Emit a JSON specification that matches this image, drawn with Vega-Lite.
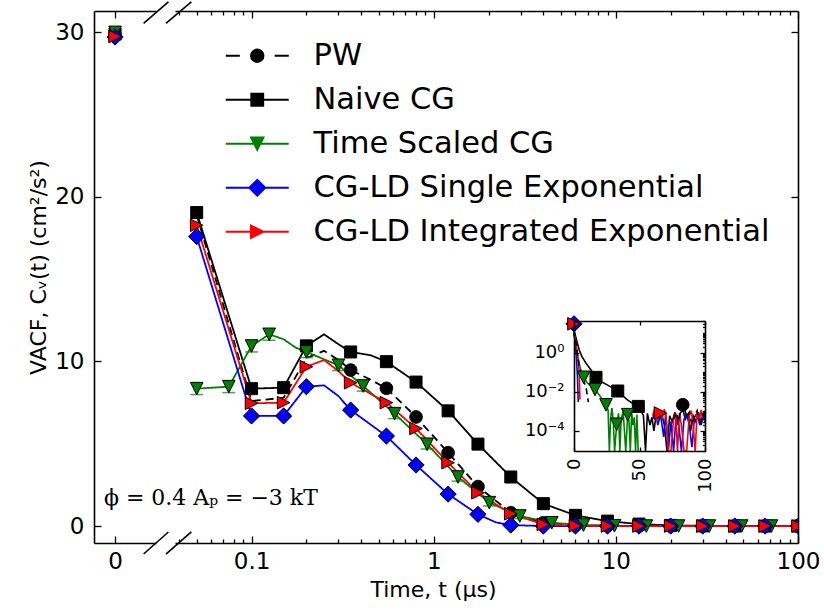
{
 "$schema": "https://vega.github.io/schema/vega-lite/v6.json",
 "background": "white",
 "padding": {"left": 27, "top": 0, "right": 5, "bottom": 5},
 "bounds": "flush",
 "spacing": 19,
 "config": {
  "view": {"stroke": null},
  "font": "DejaVu Sans",
  "axis": {"domainColor": "black", "tickColor": "black", "labelColor": "black", "titleColor": "black", "domainWidth": 1.6, "tickWidth": 1.3, "labelFont": "DejaVu Sans", "titleFont": "DejaVu Sans", "labelFontSize": 23, "titleFontSize": 22, "titleFontWeight": "normal", "grid": false, "labelFlush": false, "labelOverlap": false, "zindex": 1}
 },
 "datasets": {
  "zero": [
   {"s": "PW", "t": 0, "v": 29.8},
   {"s": "Naive CG", "t": 0, "v": 29.9},
   {"s": "Time Scaled CG", "t": 0, "v": 30.0},
   {"s": "CG-LD Single Exponential", "t": 0, "v": 29.72},
   {"s": "CG-LD Integrated Exponential", "t": 0, "v": 29.75}
  ],
  "main": [
   {"s": "PW", "t": 0.05, "v": 18.9}, {"s": "PW", "t": 0.1, "v": 7.6}, {"s": "PW", "t": 0.15, "v": 7.8}, {"s": "PW", "t": 0.2, "v": 10.2}, {"s": "PW", "t": 0.25, "v": 10.65}, {"s": "PW", "t": 0.3, "v": 10.1}, {"s": "PW", "t": 0.35, "v": 9.48}, {"s": "PW", "t": 0.45, "v": 8.9}, {"s": "PW", "t": 0.55, "v": 8.37}, {"s": "PW", "t": 0.8, "v": 6.63}, {"s": "PW", "t": 1.2, "v": 4.46}, {"s": "PW", "t": 1.75, "v": 2.4}, {"s": "PW", "t": 2.65, "v": 0.81}, {"s": "PW", "t": 4, "v": 0.2}, {"s": "PW", "t": 6, "v": 0.05}, {"s": "PW", "t": 9, "v": 0.02}, {"s": "PW", "t": 13.4, "v": 0}, {"s": "PW", "t": 20, "v": 0}, {"s": "PW", "t": 30, "v": 0}, {"s": "PW", "t": 45, "v": 0}, {"s": "PW", "t": 66, "v": 0}, {"s": "PW", "t": 100, "v": 0},
   {"s": "Naive CG", "t": 0.05, "v": 19.05}, {"s": "Naive CG", "t": 0.1, "v": 8.35}, {"s": "Naive CG", "t": 0.15, "v": 8.41}, {"s": "Naive CG", "t": 0.2, "v": 10.95}, {"s": "Naive CG", "t": 0.25, "v": 11.65}, {"s": "Naive CG", "t": 0.3, "v": 11.05}, {"s": "Naive CG", "t": 0.35, "v": 10.58}, {"s": "Naive CG", "t": 0.45, "v": 10.38}, {"s": "Naive CG", "t": 0.55, "v": 9.99}, {"s": "Naive CG", "t": 0.8, "v": 8.75}, {"s": "Naive CG", "t": 1.2, "v": 7.0}, {"s": "Naive CG", "t": 1.75, "v": 4.98}, {"s": "Naive CG", "t": 2.65, "v": 2.98}, {"s": "Naive CG", "t": 4, "v": 1.36}, {"s": "Naive CG", "t": 6, "v": 0.65}, {"s": "Naive CG", "t": 9, "v": 0.3}, {"s": "Naive CG", "t": 13.4, "v": 0.12}, {"s": "Naive CG", "t": 20, "v": 0.04}, {"s": "Naive CG", "t": 30, "v": 0.01}, {"s": "Naive CG", "t": 45, "v": 0}, {"s": "Naive CG", "t": 66, "v": 0}, {"s": "Naive CG", "t": 100, "v": 0},
   {"s": "Time Scaled CG", "t": 0.05, "v": 8.35}, {"s": "Time Scaled CG", "t": 0.075, "v": 8.47}, {"s": "Time Scaled CG", "t": 0.1, "v": 10.94}, {"s": "Time Scaled CG", "t": 0.125, "v": 11.65}, {"s": "Time Scaled CG", "t": 0.15, "v": 11.35}, {"s": "Time Scaled CG", "t": 0.175, "v": 10.84}, {"s": "Time Scaled CG", "t": 0.2, "v": 10.58}, {"s": "Time Scaled CG", "t": 0.3, "v": 9.77}, {"s": "Time Scaled CG", "t": 0.41, "v": 8.51}, {"s": "Time Scaled CG", "t": 0.61, "v": 6.83}, {"s": "Time Scaled CG", "t": 0.92, "v": 4.97}, {"s": "Time Scaled CG", "t": 1.36, "v": 2.98}, {"s": "Time Scaled CG", "t": 2.02, "v": 1.42}, {"s": "Time Scaled CG", "t": 2.97, "v": 0.61}, {"s": "Time Scaled CG", "t": 4.45, "v": 0.2}, {"s": "Time Scaled CG", "t": 6.64, "v": 0.06}, {"s": "Time Scaled CG", "t": 9.83, "v": 0.02}, {"s": "Time Scaled CG", "t": 14.7, "v": 0}, {"s": "Time Scaled CG", "t": 22.1, "v": 0}, {"s": "Time Scaled CG", "t": 32.6, "v": 0}, {"s": "Time Scaled CG", "t": 49.1, "v": 0}, {"s": "Time Scaled CG", "t": 71.5, "v": 0}, {"s": "Time Scaled CG", "t": 100, "v": 0},
   {"s": "CG-LD Single Exponential", "t": 0.05, "v": 17.59}, {"s": "CG-LD Single Exponential", "t": 0.1, "v": 6.69}, {"s": "CG-LD Single Exponential", "t": 0.15, "v": 6.69}, {"s": "CG-LD Single Exponential", "t": 0.2, "v": 8.47}, {"s": "CG-LD Single Exponential", "t": 0.25, "v": 8.55}, {"s": "CG-LD Single Exponential", "t": 0.3, "v": 7.9}, {"s": "CG-LD Single Exponential", "t": 0.35, "v": 7.05}, {"s": "CG-LD Single Exponential", "t": 0.55, "v": 5.47}, {"s": "CG-LD Single Exponential", "t": 0.8, "v": 3.71}, {"s": "CG-LD Single Exponential", "t": 1.2, "v": 1.94}, {"s": "CG-LD Single Exponential", "t": 1.75, "v": 0.71}, {"s": "CG-LD Single Exponential", "t": 2.2, "v": 0.22}, {"s": "CG-LD Single Exponential", "t": 2.65, "v": 0.06}, {"s": "CG-LD Single Exponential", "t": 4, "v": 0}, {"s": "CG-LD Single Exponential", "t": 6, "v": 0}, {"s": "CG-LD Single Exponential", "t": 9, "v": 0}, {"s": "CG-LD Single Exponential", "t": 13.4, "v": 0}, {"s": "CG-LD Single Exponential", "t": 20, "v": 0}, {"s": "CG-LD Single Exponential", "t": 30, "v": 0}, {"s": "CG-LD Single Exponential", "t": 45, "v": 0}, {"s": "CG-LD Single Exponential", "t": 66, "v": 0}, {"s": "CG-LD Single Exponential", "t": 100, "v": 0},
   {"s": "CG-LD Integrated Exponential", "t": 0.05, "v": 18.28}, {"s": "CG-LD Integrated Exponential", "t": 0.1, "v": 7.46}, {"s": "CG-LD Integrated Exponential", "t": 0.15, "v": 7.5}, {"s": "CG-LD Integrated Exponential", "t": 0.2, "v": 9.68}, {"s": "CG-LD Integrated Exponential", "t": 0.25, "v": 10.09}, {"s": "CG-LD Integrated Exponential", "t": 0.3, "v": 9.42}, {"s": "CG-LD Integrated Exponential", "t": 0.35, "v": 8.71}, {"s": "CG-LD Integrated Exponential", "t": 0.55, "v": 7.5}, {"s": "CG-LD Integrated Exponential", "t": 0.8, "v": 5.93}, {"s": "CG-LD Integrated Exponential", "t": 1.2, "v": 3.85}, {"s": "CG-LD Integrated Exponential", "t": 1.75, "v": 2.02}, {"s": "CG-LD Integrated Exponential", "t": 2.65, "v": 0.75}, {"s": "CG-LD Integrated Exponential", "t": 4, "v": 0.1}, {"s": "CG-LD Integrated Exponential", "t": 6, "v": 0.02}, {"s": "CG-LD Integrated Exponential", "t": 9, "v": 0}, {"s": "CG-LD Integrated Exponential", "t": 13.4, "v": 0}, {"s": "CG-LD Integrated Exponential", "t": 20, "v": 0}, {"s": "CG-LD Integrated Exponential", "t": 30, "v": 0}, {"s": "CG-LD Integrated Exponential", "t": 45, "v": 0}, {"s": "CG-LD Integrated Exponential", "t": 66, "v": 0}, {"s": "CG-LD Integrated Exponential", "t": 100, "v": 0}
  ],
  "mainpts": [
   {"s": "PW", "t": 0.35, "v": 9.48}, {"s": "PW", "t": 0.55, "v": 8.37}, {"s": "PW", "t": 0.8, "v": 6.63}, {"s": "PW", "t": 1.2, "v": 4.46}, {"s": "PW", "t": 1.75, "v": 2.4}, {"s": "PW", "t": 2.65, "v": 0.81}, {"s": "PW", "t": 4, "v": 0.2}, {"s": "PW", "t": 6, "v": 0.05}, {"s": "PW", "t": 9, "v": 0.02}, {"s": "PW", "t": 13.4, "v": 0}, {"s": "PW", "t": 20, "v": 0}, {"s": "PW", "t": 30, "v": 0}, {"s": "PW", "t": 45, "v": 0}, {"s": "PW", "t": 66, "v": 0}, {"s": "PW", "t": 100, "v": 0},
   {"s": "Naive CG", "t": 0.05, "v": 19.05}, {"s": "Naive CG", "t": 0.1, "v": 8.35}, {"s": "Naive CG", "t": 0.15, "v": 8.41}, {"s": "Naive CG", "t": 0.2, "v": 10.95}, {"s": "Naive CG", "t": 0.35, "v": 10.58}, {"s": "Naive CG", "t": 0.55, "v": 9.99}, {"s": "Naive CG", "t": 0.8, "v": 8.75}, {"s": "Naive CG", "t": 1.2, "v": 7.0}, {"s": "Naive CG", "t": 1.75, "v": 4.98}, {"s": "Naive CG", "t": 2.65, "v": 2.98}, {"s": "Naive CG", "t": 4, "v": 1.36}, {"s": "Naive CG", "t": 6, "v": 0.65}, {"s": "Naive CG", "t": 9, "v": 0.3}, {"s": "Naive CG", "t": 13.4, "v": 0.12}, {"s": "Naive CG", "t": 20, "v": 0.04}, {"s": "Naive CG", "t": 30, "v": 0.01}, {"s": "Naive CG", "t": 45, "v": 0}, {"s": "Naive CG", "t": 66, "v": 0}, {"s": "Naive CG", "t": 100, "v": 0},
   {"s": "Time Scaled CG", "t": 0.05, "v": 8.35}, {"s": "Time Scaled CG", "t": 0.075, "v": 8.47}, {"s": "Time Scaled CG", "t": 0.1, "v": 10.94}, {"s": "Time Scaled CG", "t": 0.125, "v": 11.65}, {"s": "Time Scaled CG", "t": 0.2, "v": 10.58}, {"s": "Time Scaled CG", "t": 0.3, "v": 9.77}, {"s": "Time Scaled CG", "t": 0.41, "v": 8.51}, {"s": "Time Scaled CG", "t": 0.61, "v": 6.83}, {"s": "Time Scaled CG", "t": 0.92, "v": 4.97}, {"s": "Time Scaled CG", "t": 1.36, "v": 2.98}, {"s": "Time Scaled CG", "t": 2.02, "v": 1.42}, {"s": "Time Scaled CG", "t": 2.97, "v": 0.61}, {"s": "Time Scaled CG", "t": 4.45, "v": 0.2}, {"s": "Time Scaled CG", "t": 6.64, "v": 0.06}, {"s": "Time Scaled CG", "t": 9.83, "v": 0.02}, {"s": "Time Scaled CG", "t": 14.7, "v": 0}, {"s": "Time Scaled CG", "t": 22.1, "v": 0}, {"s": "Time Scaled CG", "t": 32.6, "v": 0}, {"s": "Time Scaled CG", "t": 49.1, "v": 0}, {"s": "Time Scaled CG", "t": 71.5, "v": 0},
   {"s": "CG-LD Single Exponential", "t": 0.05, "v": 17.59}, {"s": "CG-LD Single Exponential", "t": 0.1, "v": 6.69}, {"s": "CG-LD Single Exponential", "t": 0.15, "v": 6.69}, {"s": "CG-LD Single Exponential", "t": 0.2, "v": 8.47}, {"s": "CG-LD Single Exponential", "t": 0.35, "v": 7.05}, {"s": "CG-LD Single Exponential", "t": 0.55, "v": 5.47}, {"s": "CG-LD Single Exponential", "t": 0.8, "v": 3.71}, {"s": "CG-LD Single Exponential", "t": 1.2, "v": 1.94}, {"s": "CG-LD Single Exponential", "t": 1.75, "v": 0.71}, {"s": "CG-LD Single Exponential", "t": 2.65, "v": 0.06}, {"s": "CG-LD Single Exponential", "t": 4, "v": 0}, {"s": "CG-LD Single Exponential", "t": 6, "v": 0}, {"s": "CG-LD Single Exponential", "t": 9, "v": 0}, {"s": "CG-LD Single Exponential", "t": 13.4, "v": 0}, {"s": "CG-LD Single Exponential", "t": 20, "v": 0}, {"s": "CG-LD Single Exponential", "t": 30, "v": 0}, {"s": "CG-LD Single Exponential", "t": 45, "v": 0}, {"s": "CG-LD Single Exponential", "t": 66, "v": 0}, {"s": "CG-LD Single Exponential", "t": 100, "v": 0},
   {"s": "CG-LD Integrated Exponential", "t": 0.05, "v": 18.28}, {"s": "CG-LD Integrated Exponential", "t": 0.1, "v": 7.46}, {"s": "CG-LD Integrated Exponential", "t": 0.15, "v": 7.5}, {"s": "CG-LD Integrated Exponential", "t": 0.2, "v": 9.68}, {"s": "CG-LD Integrated Exponential", "t": 0.35, "v": 8.71}, {"s": "CG-LD Integrated Exponential", "t": 0.55, "v": 7.5}, {"s": "CG-LD Integrated Exponential", "t": 0.8, "v": 5.93}, {"s": "CG-LD Integrated Exponential", "t": 1.2, "v": 3.85}, {"s": "CG-LD Integrated Exponential", "t": 1.75, "v": 2.02}, {"s": "CG-LD Integrated Exponential", "t": 2.65, "v": 0.75}, {"s": "CG-LD Integrated Exponential", "t": 4, "v": 0.1}, {"s": "CG-LD Integrated Exponential", "t": 6, "v": 0.02}, {"s": "CG-LD Integrated Exponential", "t": 9, "v": 0}, {"s": "CG-LD Integrated Exponential", "t": 13.4, "v": 0}, {"s": "CG-LD Integrated Exponential", "t": 20, "v": 0}, {"s": "CG-LD Integrated Exponential", "t": 30, "v": 0}, {"s": "CG-LD Integrated Exponential", "t": 45, "v": 0}, {"s": "CG-LD Integrated Exponential", "t": 66, "v": 0}, {"s": "CG-LD Integrated Exponential", "t": 100, "v": 0}
  ],
  "gerr": [
   {"t": 0.05, "lo": 7.99, "hi": 8.71}, {"t": 0.075, "lo": 8.11, "hi": 8.83}, {"t": 0.1, "lo": 10.58, "hi": 11.3}, {"t": 0.125, "lo": 11.29, "hi": 12.01}, {"t": 0.2, "lo": 10.24, "hi": 10.92}, {"t": 0.3, "lo": 9.45, "hi": 10.09}, {"t": 0.41, "lo": 8.2, "hi": 8.82}, {"t": 0.61, "lo": 6.53, "hi": 7.13}, {"t": 0.92, "lo": 4.69, "hi": 5.25}, {"t": 1.36, "lo": 2.73, "hi": 3.23}, {"t": 2.02, "lo": 1.22, "hi": 1.62}, {"t": 2.97, "lo": 0.45, "hi": 0.77}
  ],
  "inset": [
   {"s": "PW", "t": 0, "v": 29.8}, {"s": "PW", "t": 0.05, "v": 18.9}, {"s": "PW", "t": 0.1, "v": 7.6}, {"s": "PW", "t": 0.35, "v": 9.48}, {"s": "PW", "t": 1.2, "v": 4.46}, {"s": "PW", "t": 2.65, "v": 0.81}, {"s": "PW", "t": 4, "v": 0.2}, {"s": "PW", "t": 6, "v": 0.05}, {"s": "PW", "t": 9, "v": 0.02}, {"s": "PW", "t": 11, "v": 0.003}, {"s": "PW", "t": 12, "v": null}, {"s": "PW", "t": 74, "v": null}, {"s": "PW", "t": 76, "v": 0.0004}, {"s": "PW", "t": 78, "v": 0.0009}, {"s": "PW", "t": 80, "v": 0.0003}, {"s": "PW", "t": 81.5, "v": 0.0015}, {"s": "PW", "t": 83, "v": 0.0022}, {"s": "PW", "t": 84.5, "v": 0.0013}, {"s": "PW", "t": 86, "v": 0.0005}, {"s": "PW", "t": 88, "v": 0.0009}, {"s": "PW", "t": 90, "v": 0.0002}, {"s": "PW", "t": 92, "v": 0.0006}, {"s": "PW", "t": 94, "v": 0.0011}, {"s": "PW", "t": 96, "v": 0.0003}, {"s": "PW", "t": 98, "v": 0.0007}, {"s": "PW", "t": 100, "v": 0.0005},
   {"s": "Naive CG", "t": 0, "v": 29.9}, {"s": "Naive CG", "t": 0.05, "v": 19.05}, {"s": "Naive CG", "t": 0.1, "v": 8.35}, {"s": "Naive CG", "t": 0.25, "v": 11.65}, {"s": "Naive CG", "t": 0.55, "v": 9.99}, {"s": "Naive CG", "t": 1.2, "v": 7.0}, {"s": "Naive CG", "t": 2.65, "v": 2.98}, {"s": "Naive CG", "t": 4, "v": 1.36}, {"s": "Naive CG", "t": 6, "v": 0.65}, {"s": "Naive CG", "t": 9, "v": 0.3}, {"s": "Naive CG", "t": 13.4, "v": 0.12}, {"s": "Naive CG", "t": 16.8, "v": 0.055}, {"s": "Naive CG", "t": 20, "v": 0.035}, {"s": "Naive CG", "t": 25.7, "v": 0.022}, {"s": "Naive CG", "t": 30, "v": 0.015}, {"s": "Naive CG", "t": 33.4, "v": 0.011}, {"s": "Naive CG", "t": 37, "v": 0.0065}, {"s": "Naive CG", "t": 41, "v": 0.0038}, {"s": "Naive CG", "t": 45, "v": 0.0025}, {"s": "Naive CG", "t": 49.1, "v": 0.0018}, {"s": "Naive CG", "t": 51, "v": 0.0012}, {"s": "Naive CG", "t": 53, "v": 0.0006}, {"s": "Naive CG", "t": 54.6, "v": 1e-7}, {"s": "Naive CG", "t": 56, "v": 0.0008}, {"s": "Naive CG", "t": 58, "v": 0.0002}, {"s": "Naive CG", "t": 59.5, "v": 0.0005}, {"s": "Naive CG", "t": 61, "v": 0.0001}, {"s": "Naive CG", "t": 63, "v": 0.0009}, {"s": "Naive CG", "t": 65, "v": 0.0004}, {"s": "Naive CG", "t": 67, "v": 0.0007}, {"s": "Naive CG", "t": 69, "v": 0.0002}, {"s": "Naive CG", "t": 71, "v": 1e-7}, {"s": "Naive CG", "t": 73, "v": 0.0006}, {"s": "Naive CG", "t": 75, "v": 0.0003}, {"s": "Naive CG", "t": 77, "v": 0.0009}, {"s": "Naive CG", "t": 79, "v": 0.0002}, {"s": "Naive CG", "t": 81, "v": 0.0008}, {"s": "Naive CG", "t": 83, "v": 0.0012}, {"s": "Naive CG", "t": 85, "v": 0.0004}, {"s": "Naive CG", "t": 87, "v": 0.0007}, {"s": "Naive CG", "t": 89, "v": 0.0001}, {"s": "Naive CG", "t": 91, "v": 0.0006}, {"s": "Naive CG", "t": 93, "v": 0.0003}, {"s": "Naive CG", "t": 95, "v": 0.0009}, {"s": "Naive CG", "t": 97, "v": 0.0002}, {"s": "Naive CG", "t": 99, "v": 0.0007}, {"s": "Naive CG", "t": 100, "v": 0.0004},
   {"s": "Time Scaled CG", "t": 0, "v": 30.0}, {"s": "Time Scaled CG", "t": 0.05, "v": 8.35}, {"s": "Time Scaled CG", "t": 0.1, "v": 10.94}, {"s": "Time Scaled CG", "t": 0.125, "v": 11.65}, {"s": "Time Scaled CG", "t": 0.3, "v": 9.77}, {"s": "Time Scaled CG", "t": 0.92, "v": 4.97}, {"s": "Time Scaled CG", "t": 2.02, "v": 1.42}, {"s": "Time Scaled CG", "t": 2.97, "v": 0.61}, {"s": "Time Scaled CG", "t": 4.45, "v": 0.2}, {"s": "Time Scaled CG", "t": 6.64, "v": 0.065}, {"s": "Time Scaled CG", "t": 7.4, "v": 0.055}, {"s": "Time Scaled CG", "t": 9.83, "v": 0.03}, {"s": "Time Scaled CG", "t": 12, "v": 0.022}, {"s": "Time Scaled CG", "t": 16, "v": 0.0132}, {"s": "Time Scaled CG", "t": 20, "v": 0.006}, {"s": "Time Scaled CG", "t": 24.4, "v": 0.00216}, {"s": "Time Scaled CG", "t": 26, "v": 0.0012}, {"s": "Time Scaled CG", "t": 27, "v": 1e-7}, {"s": "Time Scaled CG", "t": 28, "v": 0.0005}, {"s": "Time Scaled CG", "t": 29, "v": 0.0015}, {"s": "Time Scaled CG", "t": 30, "v": 0.0003}, {"s": "Time Scaled CG", "t": 31, "v": 1e-7}, {"s": "Time Scaled CG", "t": 32.6, "v": 0.00022}, {"s": "Time Scaled CG", "t": 34, "v": 0.0008}, {"s": "Time Scaled CG", "t": 35, "v": 1e-7}, {"s": "Time Scaled CG", "t": 36, "v": 0.0004}, {"s": "Time Scaled CG", "t": 37.5, "v": 0.001}, {"s": "Time Scaled CG", "t": 38.5, "v": 0.0001}, {"s": "Time Scaled CG", "t": 39.5, "v": 1e-7}, {"s": "Time Scaled CG", "t": 41, "v": 0.00068}, {"s": "Time Scaled CG", "t": 42, "v": 0.0003}, {"s": "Time Scaled CG", "t": 43, "v": 1e-7}, {"s": "Time Scaled CG", "t": 44, "v": 0.0009}, {"s": "Time Scaled CG", "t": 45, "v": 0.0002}, {"s": "Time Scaled CG", "t": 46, "v": 0.0005}, {"s": "Time Scaled CG", "t": 47, "v": 1e-7}, {"s": "Time Scaled CG", "t": 48, "v": 0.0007}, {"s": "Time Scaled CG", "t": 49, "v": 1e-7},
   {"s": "CG-LD Single Exponential", "t": 0, "v": 29.72}, {"s": "CG-LD Single Exponential", "t": 0.05, "v": 17.59}, {"s": "CG-LD Single Exponential", "t": 0.1, "v": 6.69}, {"s": "CG-LD Single Exponential", "t": 0.2, "v": 8.47}, {"s": "CG-LD Single Exponential", "t": 0.35, "v": 7.05}, {"s": "CG-LD Single Exponential", "t": 0.8, "v": 3.71}, {"s": "CG-LD Single Exponential", "t": 1.75, "v": 0.71}, {"s": "CG-LD Single Exponential", "t": 2.65, "v": 0.06}, {"s": "CG-LD Single Exponential", "t": 3.2, "v": 0.003}, {"s": "CG-LD Single Exponential", "t": 3.6, "v": null}, {"s": "CG-LD Single Exponential", "t": 58, "v": null}, {"s": "CG-LD Single Exponential", "t": 60, "v": 0.0004}, {"s": "CG-LD Single Exponential", "t": 62, "v": 0.001}, {"s": "CG-LD Single Exponential", "t": 64, "v": 0.0002}, {"s": "CG-LD Single Exponential", "t": 66, "v": 0.0007}, {"s": "CG-LD Single Exponential", "t": 68.5, "v": 0.00005}, {"s": "CG-LD Single Exponential", "t": 70, "v": 0.0008}, {"s": "CG-LD Single Exponential", "t": 72, "v": 1e-7}, {"s": "CG-LD Single Exponential", "t": 74, "v": 0.0003}, {"s": "CG-LD Single Exponential", "t": 76, "v": 1e-7}, {"s": "CG-LD Single Exponential", "t": 78, "v": 0.0006}, {"s": "CG-LD Single Exponential", "t": 80, "v": 0.0002}, {"s": "CG-LD Single Exponential", "t": 82, "v": 1e-7}, {"s": "CG-LD Single Exponential", "t": 84, "v": 0.0004}, {"s": "CG-LD Single Exponential", "t": 86, "v": 0.0007}, {"s": "CG-LD Single Exponential", "t": 88, "v": 0.0002}, {"s": "CG-LD Single Exponential", "t": 90, "v": 0.000015}, {"s": "CG-LD Single Exponential", "t": 92, "v": 0.0005}, {"s": "CG-LD Single Exponential", "t": 94, "v": 0.0008}, {"s": "CG-LD Single Exponential", "t": 96, "v": 0.0002}, {"s": "CG-LD Single Exponential", "t": 98, "v": 0.0006}, {"s": "CG-LD Single Exponential", "t": 100, "v": 0.0003},
   {"s": "CG-LD Integrated Exponential", "t": 0, "v": 29.75}, {"s": "CG-LD Integrated Exponential", "t": 0.05, "v": 18.28}, {"s": "CG-LD Integrated Exponential", "t": 0.1, "v": 7.46}, {"s": "CG-LD Integrated Exponential", "t": 0.2, "v": 9.68}, {"s": "CG-LD Integrated Exponential", "t": 0.35, "v": 8.71}, {"s": "CG-LD Integrated Exponential", "t": 0.8, "v": 5.93}, {"s": "CG-LD Integrated Exponential", "t": 1.75, "v": 2.02}, {"s": "CG-LD Integrated Exponential", "t": 2.65, "v": 0.75}, {"s": "CG-LD Integrated Exponential", "t": 4, "v": 0.1}, {"s": "CG-LD Integrated Exponential", "t": 4.5, "v": 0.004}, {"s": "CG-LD Integrated Exponential", "t": 5, "v": null}, {"s": "CG-LD Integrated Exponential", "t": 58, "v": null}, {"s": "CG-LD Integrated Exponential", "t": 60, "v": 0.0006}, {"s": "CG-LD Integrated Exponential", "t": 61.5, "v": 0.0012}, {"s": "CG-LD Integrated Exponential", "t": 63, "v": 0.0003}, {"s": "CG-LD Integrated Exponential", "t": 64.5, "v": 0.0009}, {"s": "CG-LD Integrated Exponential", "t": 66, "v": 0.00083}, {"s": "CG-LD Integrated Exponential", "t": 67.5, "v": 0.0005}, {"s": "CG-LD Integrated Exponential", "t": 69, "v": 0.0013}, {"s": "CG-LD Integrated Exponential", "t": 70.5, "v": 0.0004}, {"s": "CG-LD Integrated Exponential", "t": 72, "v": 1e-7}, {"s": "CG-LD Integrated Exponential", "t": 74, "v": 1e-7}, {"s": "CG-LD Integrated Exponential", "t": 76, "v": 0.0004}, {"s": "CG-LD Integrated Exponential", "t": 77.5, "v": 0.0009}, {"s": "CG-LD Integrated Exponential", "t": 79, "v": 1e-7}, {"s": "CG-LD Integrated Exponential", "t": 80.5, "v": 0.0008}, {"s": "CG-LD Integrated Exponential", "t": 82, "v": 0.0002}, {"s": "CG-LD Integrated Exponential", "t": 84, "v": 1e-7}, {"s": "CG-LD Integrated Exponential", "t": 86, "v": 1e-7}, {"s": "CG-LD Integrated Exponential", "t": 88, "v": 0.0006}, {"s": "CG-LD Integrated Exponential", "t": 89.5, "v": 0.0011}, {"s": "CG-LD Integrated Exponential", "t": 91, "v": 0.0002}, {"s": "CG-LD Integrated Exponential", "t": 92.5, "v": 1e-7}, {"s": "CG-LD Integrated Exponential", "t": 94, "v": 0.0009}, {"s": "CG-LD Integrated Exponential", "t": 95.5, "v": 0.0003}, {"s": "CG-LD Integrated Exponential", "t": 97, "v": 0.0012}, {"s": "CG-LD Integrated Exponential", "t": 98.5, "v": 0.0005}, {"s": "CG-LD Integrated Exponential", "t": 100, "v": 0.001}
  ],
  "insetpts": [
   {"s": "PW", "t": 83, "v": 0.0022},
   {"s": "Naive CG", "t": 16.8, "v": 0.055}, {"s": "Naive CG", "t": 33.4, "v": 0.011}, {"s": "Naive CG", "t": 49.1, "v": 0.0018},
   {"s": "Time Scaled CG", "t": 7.4, "v": 0.055}, {"s": "Time Scaled CG", "t": 16, "v": 0.0132}, {"s": "Time Scaled CG", "t": 24.4, "v": 0.00216}, {"s": "Time Scaled CG", "t": 32.6, "v": 0.00022}, {"s": "Time Scaled CG", "t": 41, "v": 0.00068},
   {"s": "CG-LD Single Exponential", "t": 0, "v": 29.72},
   {"s": "CG-LD Integrated Exponential", "t": 0, "v": 29.75}, {"s": "CG-LD Integrated Exponential", "t": 66, "v": 0.00083}
  ]
 },
 "hconcat": [
  {
   "width": 62,
   "height": 532,
   "layer": [
    {
     "data": {"name": "zero"},
     "mark": {"type": "point", "filled": true, "size": 144, "stroke": "black", "strokeWidth": 1, "opacity": 1},
     "encoding": {
      "x": {"field": "t", "type": "quantitative", "scale": {"domain": [-0.34, 0.66], "nice": false, "zero": false},
            "axis": {"orient": "bottom", "values": [0], "format": "d", "tickSize": -7, "labelPadding": 14, "title": null}},
      "y": {"field": "v", "type": "quantitative", "scale": {"domain": [-1.03, 31.3], "nice": false, "zero": false},
            "axis": {"orient": "left", "values": [0, 10, 20, 30], "format": "d", "tickSize": -7, "labelPadding": 17, "title": "VACF, Cᵥ(t) (cm²/s²)", "titlePadding": 4, "titleY": 256}},
      "shape": {"field": "s", "type": "nominal", "legend": null,
                "scale": {"domain": ["Naive CG", "PW", "Time Scaled CG", "CG-LD Single Exponential", "CG-LD Integrated Exponential"],
                          "range": ["M-1,-1H1V1H-1Z", "M1.05,0A1.05,1.05,0,1,1,-1.05,0A1.05,1.05,0,1,1,1.05,0Z", "M-1.05,-1.05H1.05L0,1.05Z", "M0,-1.35L1.35,0L0,1.35L-1.35,0Z", "M-1.05,-1.05L1.05,0L-1.05,1.05Z"]}},
      "fill": {"field": "s", "type": "nominal", "legend": null,
               "scale": {"domain": ["Naive CG", "PW", "Time Scaled CG", "CG-LD Single Exponential", "CG-LD Integrated Exponential"],
                         "range": ["#000000", "#000000", "#008000", "#0000ff", "#ff0000"]}}
     }
    },
    {
     "data": {"values": [{"label": "ϕ = 0.4  Aₚ = −3 kT"}]},
     "mark": {"type": "text", "align": "left", "baseline": "middle", "font": "DejaVu Serif", "fontSize": 22, "color": "black"},
     "encoding": {
      "x": {"datum": -0.18, "type": "quantitative", "axis": {"orient": "top", "values": [0], "labels": false, "tickSize": -7, "title": null}},
      "y": {"datum": 1.7, "type": "quantitative", "axis": null},
      "text": {"field": "label"}
     }
    },
    {
     "data": {"values": [{}]},
     "mark": {"type": "rule", "color": "black", "strokeWidth": 1.6},
     "encoding": {
      "x": {"datum": 0.46, "type": "quantitative", "axis": null},
      "x2": {"datum": 0.86},
      "y": {"datum": -1.7, "type": "quantitative", "axis": null},
      "y2": {"datum": -0.36}
     }
    },
    {
     "data": {"values": [{}]},
     "mark": {"type": "rule", "color": "black", "strokeWidth": 1.6},
     "encoding": {
      "x": {"datum": 0.46, "type": "quantitative", "axis": null},
      "x2": {"datum": 0.86},
      "y": {"datum": 30.55, "type": "quantitative", "axis": null},
      "y2": {"datum": 31.86}
     }
    }
   ],
   "resolve": {"axis": {"x": "independent", "y": "independent"}}
  },
  {
   "width": 623,
   "height": 532,
   "layer": [
    {
     "layer": [
      {
       "data": {"name": "main"},
       "mark": {"type": "line", "strokeWidth": 1.8, "clip": true},
       "encoding": {
        "x": {"field": "t", "type": "quantitative", "scale": {"type": "log", "domain": [0.038, 100], "nice": false},
              "axis": {"orient": "bottom", "values": [0.1, 1, 10, 100], "format": "~g", "tickSize": -7, "labelPadding": 14, "title": "Time, t (μs)", "titlePadding": 6, "titleX": 258}},
        "y": {"field": "v", "type": "quantitative", "scale": {"domain": [-1.03, 31.3], "nice": false, "zero": false},
              "axis": {"orient": "right", "values": [0, 10, 20, 30], "labels": false, "tickSize": -7, "title": null}},
        "color": {"field": "s", "type": "nominal",
                  "scale": {"domain": ["PW", "Naive CG", "Time Scaled CG", "CG-LD Single Exponential", "CG-LD Integrated Exponential"],
                            "range": ["#000000", "#000000", "#008000", "#0000ff", "#ff0000"]},
                  "legend": {"orient": "none", "legendX": 148, "legendY": 29.5, "title": null, "padding": 0,
                             "labelFont": "DejaVu Sans", "labelFontSize": 30.5, "labelColor": "black", "labelLimit": 700,
                             "symbolSize": 144, "labelOffset": 41, "rowPadding": 13,
                             "encode": {"symbols": {"update": {
                               "shape": {"signal": "datum.value === 'PW' ? 'M-5.25,0H-2.9M2.9,0H5.25M1.05,0A1.05,1.05,0,1,1,-1.05,0A1.05,1.05,0,1,1,1.05,0Z' : datum.value === 'Naive CG' ? 'M-5.25,0H5.25M-1,-1H1V1H-1Z' : datum.value === 'Time Scaled CG' ? 'M-5.25,0H5.25M-1.05,-1.05H1.05L0,1.05Z' : datum.value === 'CG-LD Single Exponential' ? 'M-5.25,0H5.25M0,-1.35L1.35,0L0,1.35L-1.35,0Z' : 'M-5.25,0H5.25M-1.05,-1.05L1.05,0L-1.05,1.05Z'"},
                               "fill": {"signal": "datum.value === 'Time Scaled CG' ? '#008000' : datum.value === 'CG-LD Single Exponential' ? '#0000ff' : datum.value === 'CG-LD Integrated Exponential' ? '#ff0000' : '#000000'"},
                               "stroke": {"signal": "datum.value === 'Time Scaled CG' ? '#008000' : datum.value === 'CG-LD Single Exponential' ? '#0000ff' : datum.value === 'CG-LD Integrated Exponential' ? '#ff0000' : '#000000'"},
                               "strokeWidth": {"value": 1.8},
                               "strokeDash": {"value": []},
                               "opacity": {"value": 1},
                               "fillOpacity": {"value": 1},
                               "strokeOpacity": {"value": 1}
                             }}}}},
        "strokeDash": {"field": "s", "type": "nominal", "legend": null,
                       "scale": {"domain": ["Naive CG", "PW", "Time Scaled CG", "CG-LD Single Exponential", "CG-LD Integrated Exponential"],
                                 "range": [[1, 0], [8, 5], [1, 0], [1, 0], [1, 0]]}}
       }
      },
      {
       "data": {"name": "gerr"},
       "mark": {"type": "rule", "color": "#008000", "strokeWidth": 1.3, "clip": true},
       "encoding": {
        "x": {"field": "t", "type": "quantitative",
              "axis": {"orient": "bottom", "values": [0.04, 0.05, 0.06, 0.07, 0.08, 0.09, 0.2, 0.3, 0.4, 0.5, 0.6, 0.7, 0.8, 0.9, 2, 3, 4, 5, 6, 7, 8, 9, 20, 30, 40, 50, 60, 70, 80, 90], "labels": false, "domain": false, "tickSize": -4, "title": null}},
        "y": {"field": "lo", "type": "quantitative", "axis": null},
        "y2": {"field": "hi"}
       }
      },
      {
       "data": {"name": "gerr"},
       "mark": {"type": "tick", "orient": "horizontal", "color": "#008000", "size": 13, "thickness": 1.5, "clip": true},
       "encoding": {
        "x": {"field": "t", "type": "quantitative",
              "axis": {"orient": "top", "values": [0.1, 1, 10, 100], "labels": false, "tickSize": -7, "title": null}},
        "y": {"field": "lo", "type": "quantitative", "axis": null}
       }
      },
      {
       "data": {"name": "mainpts"},
       "mark": {"type": "point", "filled": true, "size": 144, "stroke": "black", "strokeWidth": 1, "opacity": 1, "clip": true},
       "encoding": {
        "x": {"field": "t", "type": "quantitative",
              "axis": {"orient": "top", "values": [0.04, 0.05, 0.06, 0.07, 0.08, 0.09, 0.2, 0.3, 0.4, 0.5, 0.6, 0.7, 0.8, 0.9, 2, 3, 4, 5, 6, 7, 8, 9, 20, 30, 40, 50, 60, 70, 80, 90], "labels": false, "domain": false, "tickSize": -4, "title": null}},
        "y": {"field": "v", "type": "quantitative", "axis": null},
        "shape": {"field": "s", "type": "nominal", "legend": null},
        "fill": {"field": "s", "type": "nominal", "legend": null}
       }
      },
      {
       "data": {"values": [{}]},
       "mark": {"type": "rule", "color": "black", "strokeWidth": 1.6},
       "encoding": {
        "x": {"datum": 0.0339, "type": "quantitative", "axis": null},
        "x2": {"datum": 0.0467},
        "y": {"datum": -1.7, "type": "quantitative", "axis": null},
        "y2": {"datum": -0.36}
       }
      },
      {
       "data": {"values": [{}]},
       "mark": {"type": "rule", "color": "black", "strokeWidth": 1.6},
       "encoding": {
        "x": {"datum": 0.0339, "type": "quantitative", "axis": null},
        "x2": {"datum": 0.0467},
        "y": {"datum": 30.55, "type": "quantitative", "axis": null},
        "y2": {"datum": 31.86}
       }
      }
     ],
     "resolve": {"axis": {"x": "independent", "y": "independent"}}
    },
    {
     "layer": [
      {
       "data": {"name": "inset"},
       "transform": [{"filter": "datum.s !== 'PW'"}],
       "mark": {"type": "line", "strokeWidth": 1.6, "clip": true},
       "encoding": {
        "x": {"field": "t", "type": "quantitative", "scale": {"domain": [0, 100], "range": [399, 530], "nice": false, "zero": false},
              "axis": {"orient": "bottom", "offset": -92, "values": [0, 50, 100], "labelAngle": -90, "labelFontSize": 18, "tickSize": -4, "labelPadding": 11, "title": null, "zindex": 2}},
        "y": {"field": "v", "type": "quantitative", "scale": {"type": "log", "domain": [0.0000095, 41.4], "range": [440, 310], "clamp": true, "nice": false},
              "axis": {"orient": "left", "offset": -399, "values": [0.0001, 0.01, 1], "labelExpr": "datum.value >= 0.5 ? '10⁰' : datum.value >= 0.005 ? '10⁻²' : '10⁻⁴'", "labelFontSize": 18, "tickSize": -5, "labelPadding": 15, "title": null, "zindex": 2}},
        "stroke": {"field": "s", "type": "nominal", "legend": null,
                   "scale": {"domain": ["Naive CG", "PW", "Time Scaled CG", "CG-LD Single Exponential", "CG-LD Integrated Exponential"],
                             "range": ["#000000", "#000000", "#008000", "#0000ff", "#ff0000"]}}
       }
      },
      {
       "data": {"name": "inset"},
       "transform": [{"filter": "datum.s === 'PW'"}],
       "mark": {"type": "line", "strokeWidth": 1.6, "strokeDash": [6, 4], "color": "black", "clip": true},
       "encoding": {
        "x": {"field": "t", "type": "quantitative", "axis": null},
        "y": {"field": "v", "type": "quantitative",
              "axis": {"orient": "right", "offset": -93, "values": [0.00001, 0.00002, 0.00003, 0.00004, 0.00005, 0.00006, 0.00007, 0.00008, 0.00009, 0.0002, 0.0003, 0.0004, 0.0005, 0.0006, 0.0007, 0.0008, 0.0009, 0.001, 0.002, 0.003, 0.004, 0.005, 0.006, 0.007, 0.008, 0.009, 0.02, 0.03, 0.04, 0.05, 0.06, 0.07, 0.08, 0.09, 0.1, 0.2, 0.3, 0.4, 0.5, 0.6, 0.7, 0.8, 0.9, 2, 3, 4, 5, 6, 7, 8, 9, 10, 20, 30, 40], "labels": false, "domain": false, "tickSize": -2.5, "title": null, "zindex": 2}}
       }
      },
      {
       "data": {"name": "insetpts"},
       "mark": {"type": "point", "filled": true, "size": 144, "stroke": "black", "strokeWidth": 1, "opacity": 1, "clip": true},
       "encoding": {
        "x": {"field": "t", "type": "quantitative",
              "axis": {"orient": "top", "offset": -310, "values": [0, 50, 100], "labels": false, "tickSize": -4, "title": null, "zindex": 2}},
        "y": {"field": "v", "type": "quantitative",
              "axis": {"orient": "right", "offset": -93, "values": [0.0001, 0.01, 1], "labels": false, "tickSize": -5, "title": null, "zindex": 2}},
        "shape": {"field": "s", "type": "nominal", "legend": null},
        "fill": {"field": "s", "type": "nominal", "legend": null}
       }
      }
     ],
     "resolve": {"axis": {"x": "independent", "y": "independent"}}
    }
   ],
   "resolve": {"scale": {"x": "independent", "y": "independent"}, "axis": {"x": "independent", "y": "independent"}}
  }
 ]
}
